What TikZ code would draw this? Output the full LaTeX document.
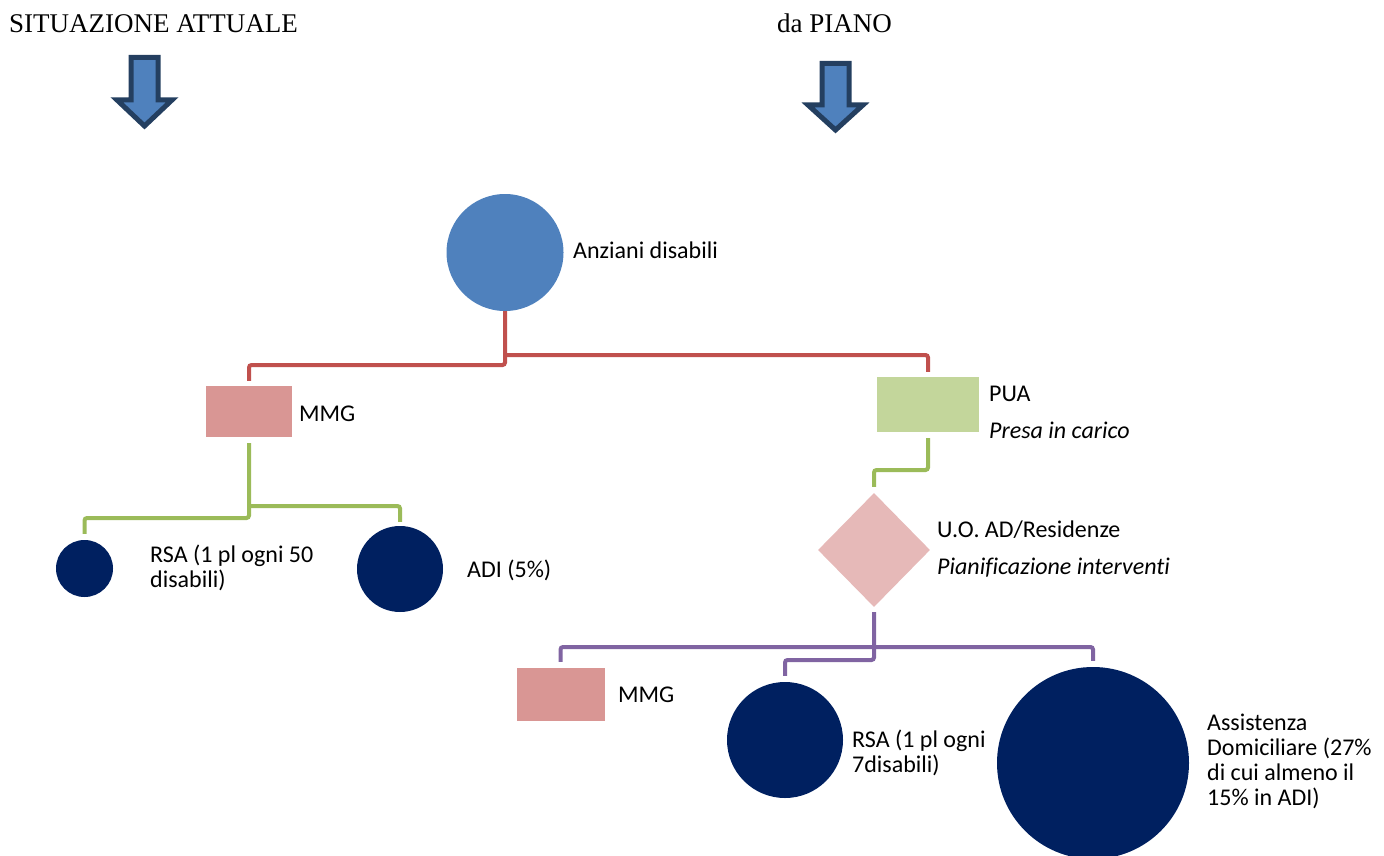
\documentclass[tikz,border=0pt]{standalone}
\usepackage{fontspec}
\setmainfont{Carlito}[Ligatures=NoCommon]
\newfontfamily\titlefont{Liberation Serif}
\usetikzlibrary{shapes.geometric}
\definecolor{arrowfill}{HTML}{4F81BD}
\definecolor{arrowedge}{HTML}{243F60}
\definecolor{topblue}{HTML}{4F81BD}
\definecolor{navy}{HTML}{002060}
\definecolor{mmgred}{HTML}{D99694}
\definecolor{puagreen}{HTML}{C3D69B}
\definecolor{uopink}{HTML}{E6B9B8}
\definecolor{linered}{HTML}{C0504D}
\definecolor{linegreen}{HTML}{9BBB59}
\definecolor{linepurple}{HTML}{8064A2}
\begin{document}
\begin{tikzpicture}[x=1pt,y=-1pt,
  lbl/.style={anchor=base west,inner sep=0pt,font=\fontsize{24}{26}\selectfont},
  ilbl/.style={lbl,font=\fontsize{24}{26}\selectfont\itshape},
  ttl/.style={anchor=base west,inner sep=0pt,font=\titlefont\fontsize{27}{30}\selectfont},
  dot/.style={circle,fill=navy,inner sep=0pt,draw=none},
  boxnode/.style={rectangle,inner sep=0pt,draw=none},
  conn/.style={line width=4pt,rounded corners=2.5pt},
  downarrow/.style={fill=arrowfill,draw=arrowedge,line width=5pt,line join=miter,miter limit=10}
]
\useasboundingbox (0,0) rectangle (1384,856);

% titles
\node[ttl] (t1) at (9,33) {SITUAZIONE ATTUALE};
\node[ttl] (t2) at (777,33) {da PIANO};

% block arrows
\draw[downarrow] (131,57.5) -- (158,57.5) -- (158,100) -- (172,100) -- (144.5,126) -- (117,100) -- (131,100) -- cycle;
\draw[downarrow] (822,63.5) -- (849,63.5) -- (849,105) -- (863,105) -- (835.5,130) -- (808,105) -- (822,105) -- cycle;

% nodes
\node[circle,fill=topblue,inner sep=0pt,minimum size=117pt] (anz) at (505,252.5) {};
\node[lbl] (anzl) at (573,258) {Anziani disabili};

\node[boxnode,fill=mmgred,minimum width=86pt,minimum height=51pt] (mmg1) at (249,411.5) {};
\node[lbl] (mmg1l) at (299,421) {MMG};

\node[boxnode,fill=puagreen,minimum width=102pt,minimum height=55pt] (pua) at (928,404.5) {};
\node[lbl] (pual) at (989,401) {PUA};
\node[ilbl] (pual2) at (989,438) {Presa in carico};

\node[dot,minimum size=57pt] (rsa1) at (84.5,568.5) {};
\node[lbl] (rsa1l) at (150,562) {RSA (1 pl ogni 50};
\node[lbl] (rsa1l2) at (150,587) {disabili)};

\node[dot,minimum size=86pt] (adi) at (400,569) {};
\node[lbl] (adil) at (467,577) {ADI (5\%)};

\node[diamond,fill=uopink,inner sep=0pt,minimum width=112pt,minimum height=114pt] (uo) at (874,550) {};
\node[lbl] (uol) at (937,537) {U.O. AD/Residenze};
\node[ilbl] (uol2) at (937,574) {Pianificazione interventi};

\node[boxnode,fill=mmgred,minimum width=88pt,minimum height=53pt] (mmg2) at (560.5,694.5) {};
\node[lbl] (mmg2l) at (618,702) {MMG};

\node[dot,minimum size=116pt] (rsa2) at (785,740) {};
\node[lbl] (rsa2l) at (852,747) {RSA (1 pl ogni};
\node[lbl] (rsa2l2) at (852,772) {7disabili)};

\node[dot,minimum size=192pt] (big) at (1093,763) {};
\node[lbl] (bigl1) at (1207,730) {Assistenza};
\node[lbl] (bigl2) at (1207,755) {Domiciliare (27\%};
\node[lbl] (bigl3) at (1207,780) {di cui almeno il};
\node[lbl] (bigl4) at (1207,805) {15\% in ADI)};

% connectors
\draw[conn,linered] (anz.south) -- (505,365) -| ([yshift=5pt]mmg1.north);
\draw[conn,linered] (505,355) -| ([yshift=5pt]pua.north);

\draw[conn,linegreen] ([yshift=-6pt]mmg1.south) -- (249,518) -| ([yshift=6pt]rsa1.north);
\draw[conn,linegreen] (249,506) -| ([yshift=4pt]adi.north);

\draw[conn,linegreen] ([yshift=-6pt]pua.south) -- (928,470) -| ([yshift=6pt]uo.north);

\draw[conn,linepurple] ([yshift=-5pt]uo.south) -- (874,660) -| ([yshift=6pt]rsa2.north);
\draw[conn,linepurple] ([yshift=6pt]mmg2.north) |- (874,647) -| ([yshift=6pt]big.north);
\end{tikzpicture}
\end{document}
